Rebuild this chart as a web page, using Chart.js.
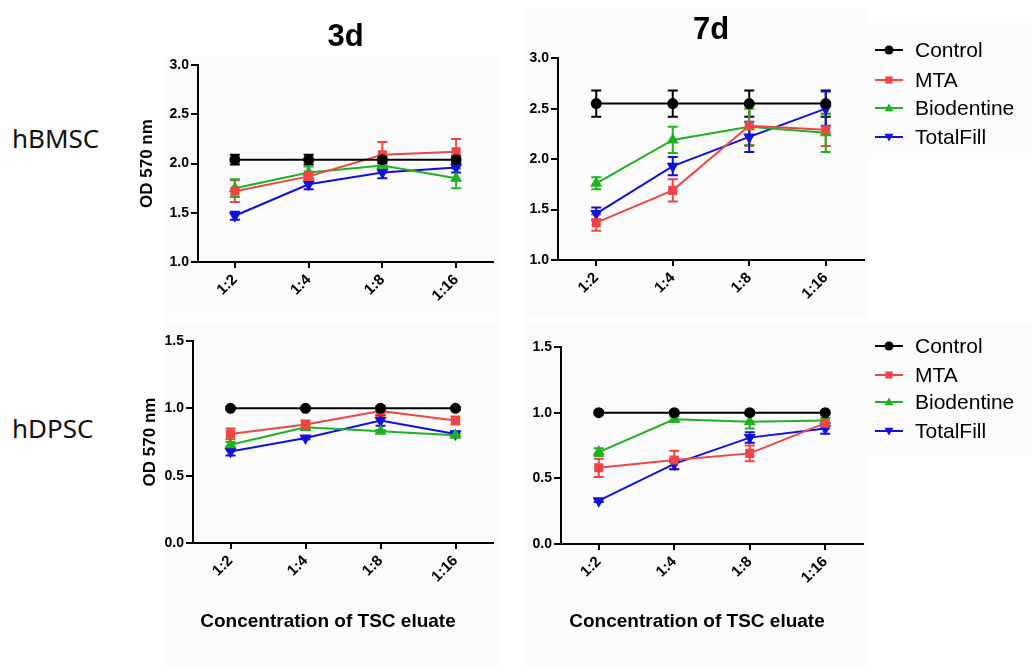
<!DOCTYPE html>
<html>
<head>
<meta charset="utf-8">
<script src="https://cdn.jsdelivr.net/npm/chart.js@4.4.1/dist/chart.umd.min.js"></script>
<style>
  body { margin: 0; background: #fff; width: 1031px; height: 667px; position: relative; overflow: hidden; }
  .bg { position: absolute; background: #fbfbfb; }
  canvas { position: absolute; }
  .side { position: absolute; left: 12px; font-family: "Noto Sans", sans-serif; font-size: 26px; color: #111; }
</style>
</head>
<body>
<div class="bg" style="left:165px;top:55px;width:335px;height:262px"></div>
<div class="bg" style="left:523px;top:8px;width:345px;height:310px"></div>
<div class="bg" style="left:868px;top:22px;width:163px;height:135px"></div>
<div class="bg" style="left:165px;top:322px;width:335px;height:345px"></div>
<div class="bg" style="left:523px;top:322px;width:345px;height:345px"></div>
<div class="bg" style="left:868px;top:322px;width:163px;height:135px"></div>

<div class="side" style="top:120px">hBMSC</div>
<div class="side" style="top:410px">hDPSC</div>

<canvas id="bmsc3d" width="380" height="320" style="left:120px;top:0px"></canvas>
<canvas id="bmsc7d" width="531" height="320" style="left:500px;top:0px"></canvas>
<canvas id="dpsc3d" width="380" height="340" style="left:120px;top:320px"></canvas>
<canvas id="dpsc7d" width="531" height="340" style="left:500px;top:320px"></canvas>

<script>
"use strict";

const categories = ["1:2", "1:4", "1:8", "1:16"];
const seriesNames = ["Control", "MTA", "Biodentine", "TotalFill"];
const colors = ["#000000", "#f04545", "#1fb21f", "#1010e0"];
const markers = ["circle", "rect", "triangle", "triangle"];
const markerRot = [0, 0, 0, 180];

// hBMSC, 3 days
const bmsc3dControl = [2.04, 2.04, 2.04, 2.04];
const bmsc3dControlErr = [0.05, 0.05, 0.04, 0.04];
const bmsc3dMTA = [1.72, 1.87, 2.09, 2.12];
const bmsc3dMTAErr = [0.11, 0.05, 0.13, 0.13];
const bmsc3dBio = [1.75, 1.91, 1.98, 1.85];
const bmsc3dBioErr = [0.09, 0.06, 0.07, 0.1];
const bmsc3dTF = [1.47, 1.79, 1.91, 1.96];
const bmsc3dTFErr = [0.04, 0.05, 0.06, 0.05];

// hBMSC, 7 days
const bmsc7dControl = [2.55, 2.55, 2.55, 2.55];
const bmsc7dControlErr = [0.13, 0.13, 0.13, 0.13];
const bmsc7dMTA = [1.37, 1.69, 2.33, 2.29];
const bmsc7dMTAErr = [0.08, 0.11, 0.2, 0.16];
const bmsc7dBio = [1.76, 2.19, 2.32, 2.26];
const bmsc7dBioErr = [0.06, 0.13, 0.18, 0.19];
const bmsc7dTF = [1.46, 1.93, 2.22, 2.5];
const bmsc7dTFErr = [0.06, 0.09, 0.15, 0.17];

// hDPSC, 3 days
const dpsc3dControl = [1.0, 1.0, 1.0, 1.0];
const dpsc3dControlErr = [0.01, 0.01, 0.01, 0.01];
const dpsc3dMTA = [0.81, 0.88, 0.98, 0.91];
const dpsc3dMTAErr = [0.04, 0.03, 0.04, 0.03];
const dpsc3dBio = [0.73, 0.86, 0.83, 0.8];
const dpsc3dBioErr = [0.02, 0.02, 0.01, 0.01];
const dpsc3dTF = [0.68, 0.78, 0.91, 0.81];
const dpsc3dTFErr = [0.03, 0.01, 0.04, 0.02];

// hDPSC, 7 days
const dpsc7dControl = [1.0, 1.0, 1.0, 1.0];
const dpsc7dControlErr = [0.01, 0.01, 0.01, 0.01];
const dpsc7dMTA = [0.58, 0.64, 0.69, 0.92];
const dpsc7dMTAErr = [0.07, 0.07, 0.06, 0.04];
const dpsc7dBio = [0.7, 0.95, 0.93, 0.94];
const dpsc7dBioErr = [0.03, 0.02, 0.05, 0.02];
const dpsc7dTF = [0.33, 0.61, 0.81, 0.88];
const dpsc7dTFErr = [0.01, 0.04, 0.04, 0.04];

const topTicks = [1.0, 1.5, 2.0, 2.5, 3.0];
const bottomTicks = [0.0, 0.5, 1.0, 1.5];

const FONT = "Arial, 'Liberation Sans', sans-serif";

// error bars drawn from the dataset's err array through the scales
const errorBars = {
	id: "errorBars",
	beforeDatasetsDraw(chart) {
		const ctx = chart.ctx;
		const y = chart.scales.y;
		chart.data.datasets.forEach((ds, di) => {
			const meta = chart.getDatasetMeta(di);
			ctx.save();
			ctx.strokeStyle = ds.borderColor;
			ctx.lineWidth = 2;
			meta.data.forEach((pt, i) => {
				const e = ds.err[i];
				const top = y.getPixelForValue(ds.data[i] + e);
				const bot = y.getPixelForValue(ds.data[i] - e);
				ctx.beginPath();
				ctx.moveTo(pt.x, top); ctx.lineTo(pt.x, bot);
				ctx.moveTo(pt.x - 5, top); ctx.lineTo(pt.x + 5, top);
				ctx.moveTo(pt.x - 5, bot); ctx.lineTo(pt.x + 5, bot);
				ctx.stroke();
			});
			ctx.restore();
		});
	},
};

function marker(ctx, style, rot, x, y, r) {
	ctx.beginPath();
	if (style === "circle") {
		ctx.arc(x, y, r, 0, Math.PI * 2);
	} else if (style === "rect") {
		ctx.rect(x - r * 0.8, y - r * 0.8, r * 1.6, r * 1.6);
	} else {
		const s = rot ? -1 : 1;
		ctx.moveTo(x, y - s * r);
		ctx.lineTo(x + r, y + s * r * 0.7);
		ctx.lineTo(x - r, y + s * r * 0.7);
		ctx.closePath();
	}
	ctx.fill();
}

const sideLegend = {
	id: "sideLegend",
	afterDraw(chart, args, opts) {
		if (!opts.rows) return;
		const ctx = chart.ctx;
		ctx.save();
		ctx.font = "21px " + FONT;
		ctx.textBaseline = "middle";
		opts.rows.forEach((ry, i) => {
			ctx.strokeStyle = colors[i];
			ctx.fillStyle = colors[i];
			ctx.lineWidth = 2;
			ctx.beginPath();
			ctx.moveTo(opts.x, ry); ctx.lineTo(opts.x + 28, ry);
			ctx.stroke();
			marker(ctx, markers[i], markerRot[i], opts.x + 14, ry, 4.5);
			ctx.fillStyle = "#000";
			ctx.fillText(seriesNames[i], opts.x + 40, ry + 1);
		});
		ctx.restore();
	},
};

// x-axis caption, sits a little left of the plot centre like the original
const xCaption = {
	id: "xCaption",
	afterDraw(chart, args, opts) {
		if (!opts.text) return;
		const ctx = chart.ctx;
		const a = chart.chartArea;
		ctx.save();
		ctx.font = "bold 19px " + FONT;
		ctx.fillStyle = "#000";
		ctx.textAlign = "center";
		ctx.textBaseline = "middle";
		ctx.fillText(opts.text, (a.left + a.right) / 2 + opts.dx, opts.y);
		ctx.restore();
	},
};

function makeDatasets(vals, errs) {
	return vals.map((v, i) => ({
		label: seriesNames[i],
		data: v,
		err: errs[i],
		borderColor: colors[i],
		backgroundColor: colors[i],
		borderWidth: 2,
		pointStyle: markers[i],
		rotation: markerRot[i],
		pointRadius: i === 0 ? 4.5 : 5,
		tension: 0,
	}));
}

function makeChart(id, p) {
	return new Chart(document.getElementById(id), {
		type: "line",
		data: { labels: categories, datasets: makeDatasets(p.vals, p.errs) },
		plugins: [errorBars, sideLegend, xCaption],
		options: {
			responsive: false,
			animation: false,
			layout: { padding: { top: p.padTop, right: p.padRight, left: 0, bottom: 0 } },
			plugins: {
				legend: { display: false },
				tooltip: { enabled: false },
				title: {
					display: !!p.title,
					text: p.title,
					fullSize: false,
					color: "#000",
					font: { family: FONT, size: 31, weight: "bold" },
					padding: { top: p.titleTop || 0, bottom: p.titleBottom || 0 },
				},
				sideLegend: { rows: p.legendRows, x: 375 },
				xCaption: { text: p.xTitle ? "Concentration of TSC eluate" : "", y: 302, dx: -15 },
			},
			scales: {
				x: {
					offset: true,
					afterFit: (s) => { s.height = p.xHeight; },
					border: { color: "#000", width: 2 },
					grid: { display: true, drawOnChartArea: false, color: "#000", lineWidth: 2, tickLength: 6, offset: false },
					ticks: { color: "#000", font: { family: FONT, size: 15, weight: "bold" }, minRotation: 45, maxRotation: 45, autoSkip: false, padding: 3 },
				},
				y: {
					min: p.ticks[0],
					max: p.ticks[p.ticks.length - 1],
					afterFit: (s) => { s.width = p.yWidth; },
					afterBuildTicks: (s) => { s.ticks = p.ticks.map((v) => ({ value: v })); },
					border: { color: "#000", width: 2 },
					grid: { display: true, drawOnChartArea: false, color: "#000", lineWidth: 2, tickLength: 7 },
					ticks: { color: "#000", font: { family: FONT, size: 14, weight: "bold" }, padding: 2, callback: (v) => Number(v).toFixed(1) },
					title: {
						display: !!p.yTitle,
						text: "OD 570 nm",
						color: "#000",
						font: { family: FONT, size: 17, weight: "bold" },
						padding: { top: p.yTitlePad || 0, bottom: 0 },
					},
				},
			},
		},
	});
}

makeChart("bmsc3d", {
	vals: [bmsc3dControl, bmsc3dMTA, bmsc3dBio, bmsc3dTF],
	errs: [bmsc3dControlErr, bmsc3dMTAErr, bmsc3dBioErr, bmsc3dTFErr],
	ticks: topTicks, title: "3d", titleTop: 19, titleBottom: 9,
	padTop: 0, padRight: 3, yWidth: 78, xHeight: 58, yTitle: true, yTitlePad: 17,
});
makeChart("bmsc7d", {
	vals: [bmsc7dControl, bmsc7dMTA, bmsc7dBio, bmsc7dTF],
	errs: [bmsc7dControlErr, bmsc7dMTAErr, bmsc7dBioErr, bmsc7dTFErr],
	ticks: topTicks, title: "7d", titleTop: 12, titleBottom: 9,
	padTop: 0, padRight: 167, yWidth: 58, xHeight: 60,
	legendRows: [50, 80, 108, 137],
});
makeChart("dpsc3d", {
	vals: [dpsc3dControl, dpsc3dMTA, dpsc3dBio, dpsc3dTF],
	errs: [dpsc3dControlErr, dpsc3dMTAErr, dpsc3dBioErr, dpsc3dTFErr],
	ticks: bottomTicks, padTop: 21, padRight: 3, yWidth: 73, xHeight: 117,
	yTitle: true, yTitlePad: 20, xTitle: true,
});
makeChart("dpsc7d", {
	vals: [dpsc7dControl, dpsc7dMTA, dpsc7dBio, dpsc7dTF],
	errs: [dpsc7dControlErr, dpsc7dMTAErr, dpsc7dBioErr, dpsc7dTFErr],
	ticks: bottomTicks, padTop: 27, padRight: 168, yWidth: 61, xHeight: 116,
	xTitle: true, legendRows: [26, 55, 82, 111],
});
</script>
</body>
</html>
